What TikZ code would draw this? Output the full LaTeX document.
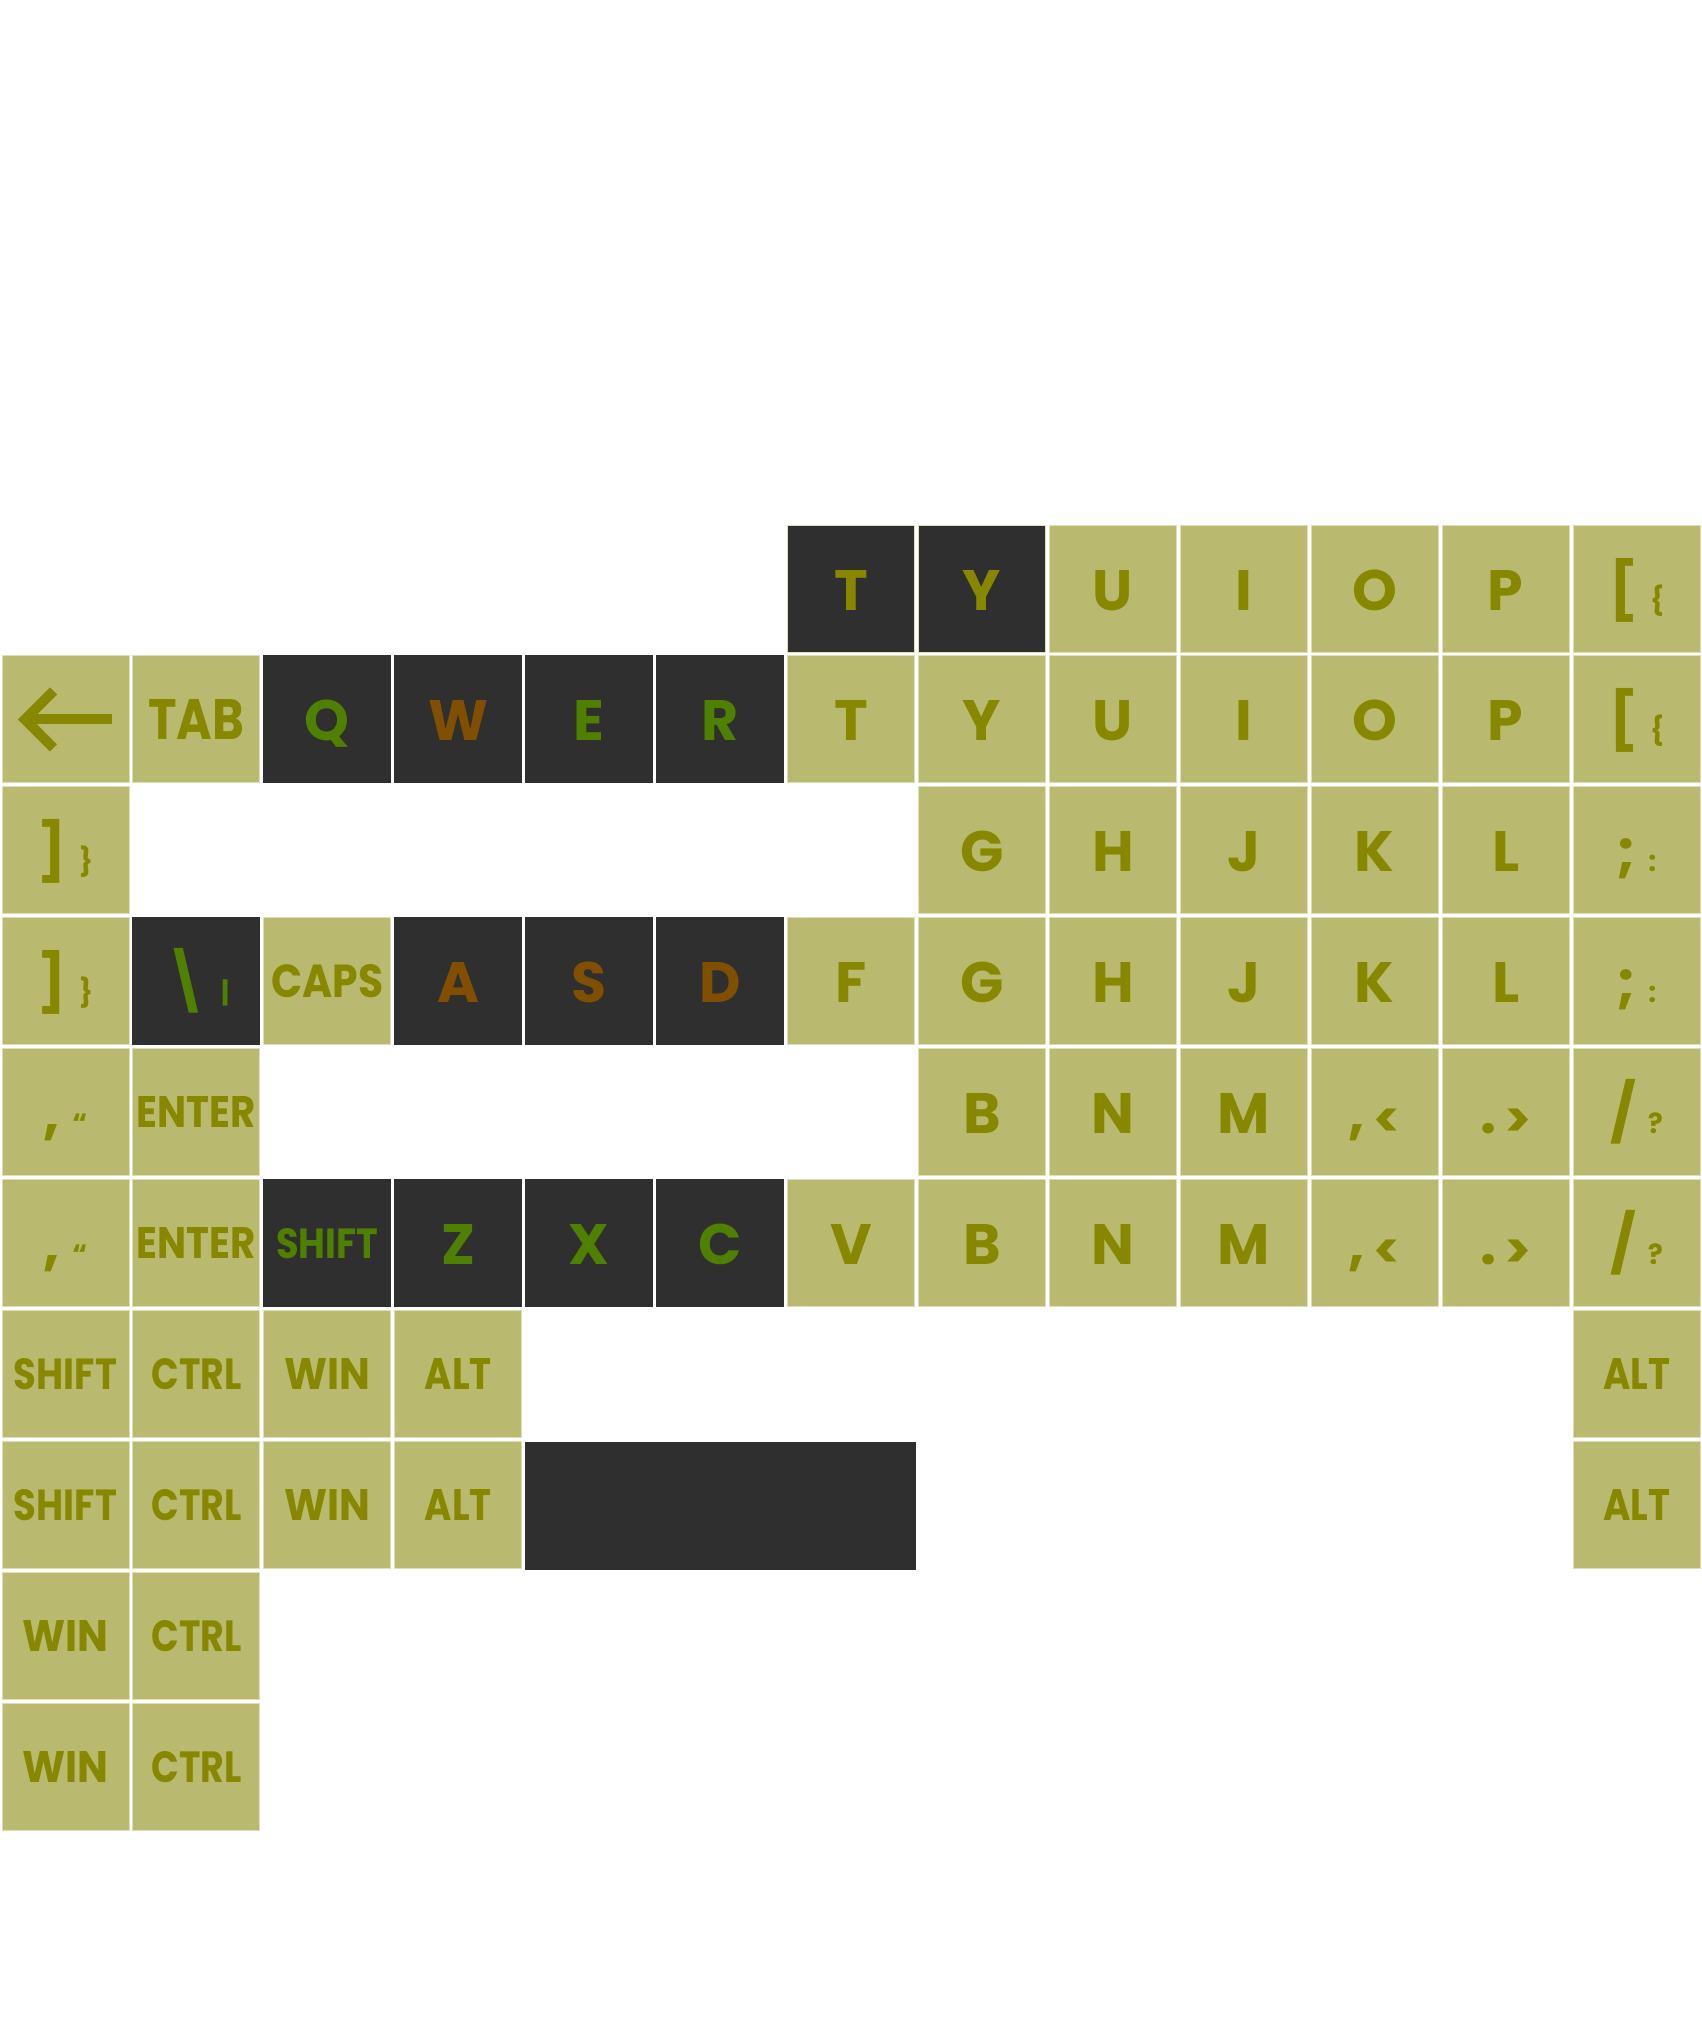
\documentclass[tikz,border=0pt]{standalone}
\usepackage{fontspec}
\usepackage{graphicx}
\newfontfamily\kf{Poppins}
\definecolor{keyfill}{RGB}{185,186,111}
\definecolor{keyborder}{RGB}{222,222,184}
\definecolor{darkfill}{RGB}{47,47,47}
\definecolor{olivetext}{RGB}{136,136,0}
\definecolor{greentext}{RGB}{80,128,0}
\definecolor{browntext}{RGB}{128,80,0}
\newcommand\K[4]{\node[#3] (k#1-#2) at ({#2*130.92+65.5},{525+#1*130.92+63.5}) {#4};}
\newcommand\W[3]{\resizebox{#1pt}{#2pt}{#3}}
\newcommand\sm[1]{{\fontsize{28}{30}\selectfont #1}}
\newcommand\smb[1]{\raisebox{-4pt}{\fontsize{50}{52}\selectfont #1}}
\newcommand\D[2]{#1\hspace{12pt}\sm{#2}}
\newcommand\DB[2]{#1\hspace{8pt}\smb{#2}}
\begin{document}
\begin{tikzpicture}[x=1pt,y=-1pt,
  lkey/.style={draw=keyborder, line width=1pt, fill=keyfill, minimum size=127pt,
    inner sep=0pt, outer sep=0pt, text=olivetext,
    font=\kf\bfseries\fontsize{57}{60}\selectfont, text height=43pt, text depth=0pt},
  dkey/.style={lkey, draw=none, fill=darkfill, minimum size=128pt},
  dkeyb/.style={lkey, fill=darkfill},
  gtxt/.style={text=greentext},
  btxt/.style={text=browntext},
  wd/.style={text height=#1pt},
  glyph/.style={draw=olivetext, line width=10pt, miter limit=4}]
\fill[white] (0,0) rectangle (1702,2024);
\useasboundingbox (0,0) rectangle (1702,2024);
% row 0
\K{0}{6}{dkeyb}{T}
\K{0}{7}{dkeyb}{Y}
\K{0}{8}{lkey}{U}
\K{0}{9}{lkey}{I}
\K{0}{10}{lkey}{O}
\K{0}{11}{lkey}{P}
\K{0}{12}{lkey}{\D{[}{\{}}
% row 1
\K{1}{0}{lkey}{}
\draw[glyph] ([shift={(-12,-28.5)}]k1-0.center) -- ++(-28.5,28.5) -- ++(28.5,28.5);
\draw[glyph] ([shift={(-40.5,0)}]k1-0.center) -- ++(87,0);
\K{1}{1}{lkey,wd=40}{\W{96}{40}{TAB}}
\K{1}{2}{dkey,gtxt}{Q}
\K{1}{3}{dkey,btxt}{W}
\K{1}{4}{dkey,gtxt}{E}
\K{1}{5}{dkey,gtxt}{R}
\K{1}{6}{lkey}{T}
\K{1}{7}{lkey}{Y}
\K{1}{8}{lkey}{U}
\K{1}{9}{lkey}{I}
\K{1}{10}{lkey}{O}
\K{1}{11}{lkey}{P}
\K{1}{12}{lkey}{\D{[}{\{}}
% row 2
\K{2}{0}{lkey}{\D{]}{\}}}
\K{2}{7}{lkey}{G}
\K{2}{8}{lkey}{H}
\K{2}{9}{lkey}{J}
\K{2}{10}{lkey}{K}
\K{2}{11}{lkey}{L}
\K{2}{12}{lkey}{\D{;}{:}}
% row 3
\K{3}{0}{lkey}{\D{]}{\}}}
\K{3}{1}{dkey,gtxt}{\D{\textbackslash}{\textbar}}
\K{3}{2}{lkey,wd=33}{\W{112}{33}{CAPS}}
\K{3}{3}{dkey,btxt}{A}
\K{3}{4}{dkey,btxt}{S}
\K{3}{5}{dkey,btxt}{D}
\K{3}{6}{lkey}{F}
\K{3}{7}{lkey}{G}
\K{3}{8}{lkey}{H}
\K{3}{9}{lkey}{J}
\K{3}{10}{lkey}{K}
\K{3}{11}{lkey}{L}
\K{3}{12}{lkey}{\D{;}{:}}
% row 4
\K{4}{0}{lkey}{\D{,}{“}}
\K{4}{1}{lkey,wd=31}{\W{119}{31}{ENTER}}
\K{4}{7}{lkey}{B}
\K{4}{8}{lkey}{N}
\K{4}{9}{lkey}{M}
\K{4}{10}{lkey}{\DB{,}{<}}
\K{4}{11}{lkey}{\DB{.}{>}}
\K{4}{12}{lkey}{\D{/}{?}}
% row 5
\K{5}{0}{lkey}{\D{,}{“}}
\K{5}{1}{lkey,wd=31}{\W{119}{31}{ENTER}}
\K{5}{2}{dkey,gtxt,wd=30}{\W{102}{30}{SHIFT}}
\K{5}{3}{dkey,gtxt}{Z}
\K{5}{4}{dkey,gtxt}{X}
\K{5}{5}{dkey,gtxt}{C}
\K{5}{6}{lkey}{V}
\K{5}{7}{lkey}{B}
\K{5}{8}{lkey}{N}
\K{5}{9}{lkey}{M}
\K{5}{10}{lkey}{\DB{,}{<}}
\K{5}{11}{lkey}{\DB{.}{>}}
\K{5}{12}{lkey}{\D{/}{?}}
% row 6
\K{6}{0}{lkey,wd=31}{\W{103}{31}{SHIFT}}
\K{6}{1}{lkey,wd=31}{\W{90}{31}{CTRL}}
\K{6}{2}{lkey,wd=31}{\W{86}{31}{WIN}}
\K{6}{3}{lkey,wd=31}{\W{67}{31}{ALT}}
\K{6}{12}{lkey,wd=31}{\W{67}{31}{ALT}}
% row 7
\K{7}{0}{lkey,wd=31}{\W{103}{31}{SHIFT}}
\K{7}{1}{lkey,wd=31}{\W{90}{31}{CTRL}}
\K{7}{2}{lkey,wd=31}{\W{86}{31}{WIN}}
\K{7}{3}{lkey,wd=31}{\W{67}{31}{ALT}}
\node[dkey, minimum width=391pt] (space) at (720.5,1505.9) {};
\K{7}{12}{lkey,wd=31}{\W{67}{31}{ALT}}
% row 8
\K{8}{0}{lkey,wd=31}{\W{86}{31}{WIN}}
\K{8}{1}{lkey,wd=31}{\W{90}{31}{CTRL}}
% row 9
\K{9}{0}{lkey,wd=31}{\W{86}{31}{WIN}}
\K{9}{1}{lkey,wd=31}{\W{90}{31}{CTRL}}
\end{tikzpicture}
\end{document}
